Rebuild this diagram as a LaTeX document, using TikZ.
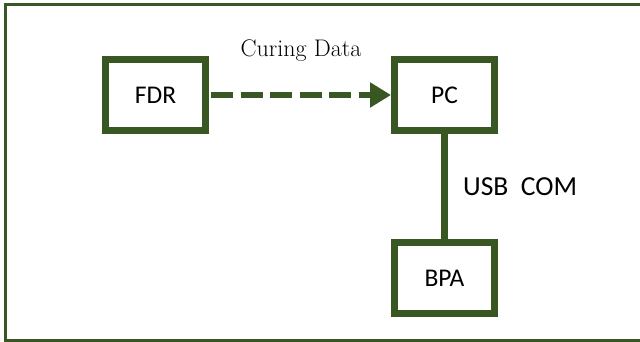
\documentclass[tikz,border=0pt]{standalone}
\usepackage{fontspec}
\newfontfamily\carlito{Carlito}
\usetikzlibrary{arrows.meta}
\definecolor{dgreen}{HTML}{385723}
\tikzset{
  blk/.style={draw=dgreen, line width=7pt, fill=white, minimum width=100pt, minimum height=71pt,
    inner sep=0pt, font=\carlito\fontsize{25.5}{30}\selectfont, text=black},
  lbl/.style={inner sep=0pt, text=black}
}
\begin{document}
\begin{tikzpicture}[x=1pt,y=-1pt]
\useasboundingbox (0,0) rectangle (640,342);
\fill[white] (0,0) rectangle (640,342);
\draw[dgreen, line width=3pt] (5.5,4.8) -- (5.5,340.5);
\draw[dgreen, line width=3pt] (4,4.8) -- (640,4.8);
\draw[dgreen, line width=3pt] (4,340.5) -- (640,340.5);
\node[blk] (fdr) at (155.5,95) {FDR};
\node[blk] (pc) at (444.5,95) {PC};
\node[blk] (bpa) at (444.5,278) {BPA};
\draw[dgreen, line width=6.5pt, dash pattern=on 22pt off 7.5pt, shorten <=2pt,
  -{Triangle[length=21pt,width=24pt]}] (fdr.east) -- (pc.west);
\draw[dgreen, line width=7pt] (pc.south) -- (bpa.north);
\node[lbl, anchor=base, font=\fontsize{24}{28}\selectfont] (cd) at (301,56.5) {Curing Data};
\node[lbl, anchor=base west, font=\carlito\fontsize{27.5}{32}\selectfont] (usb) at (463,196) {USB\ \ COM};
\end{tikzpicture}
\end{document}
